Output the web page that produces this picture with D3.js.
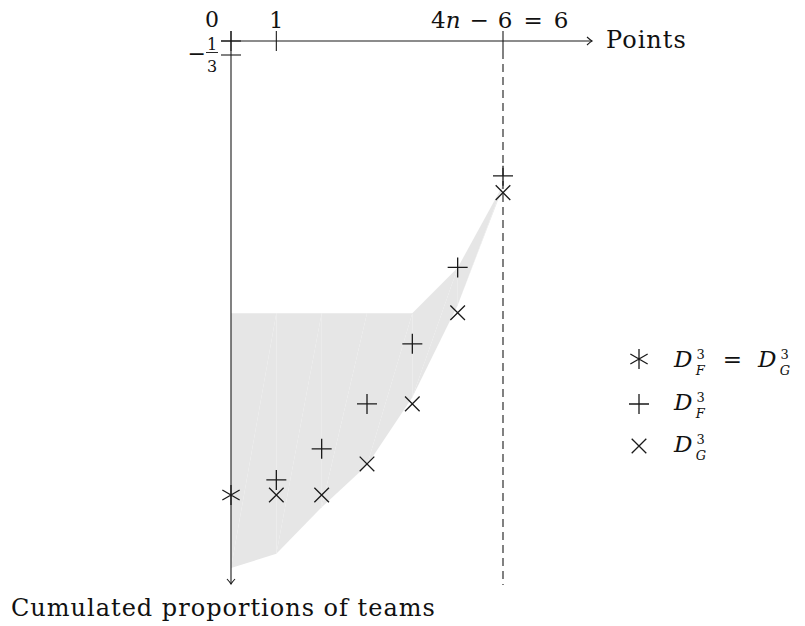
<!DOCTYPE html>
<html>
<head>
<meta charset="utf-8">
<script src="https://cdn.jsdelivr.net/npm/d3@7"></script>
<style>
  body { margin: 0; background: #fff; }
  text { font-family: "DejaVu Serif", "Liberation Serif", serif; fill: #111; }
  .it { font-style: italic; }
</style>
</head>
<body>
<svg id="chart" width="805" height="626"></svg>
<script>
// points on the x axis
var points = [0, 1, 2, 3, 4, 5, 6];
// D_F = D_G at 0 points
var bothX = [0],
    bothY = [-10.81];
// D_F^3 and D_G^3 markers
var seriesX = [1, 2, 3, 4, 5, 6];
var fY = [-10.45, -9.71, -8.64, -7.21, -5.39, -3.21];
var gY = [-10.81, -10.81, -10.07, -8.64, -6.47, -3.61];
// grey band, one value per point
var bandUpper = [-6.48, -6.48, -6.48, -6.48, -6.48, -5.40, -3.43];
var bandLower = [-12.55, -12.21, -11.10, -10.10, -8.48, -6.29, -3.48];
var yTicks = [0, -1/3];

var svg = d3.select("#chart");

var x = d3.scaleLinear().domain([0, 6]).range([231, 503]),
    y = d3.scaleLinear().domain([0, -13]).range([41, 41 + 13 * 42]);

var ink = "#1a1a1a";

// band, drawn as triangles like the tikz fill
var band = svg.append("g");
for (var i = 0; i < points.length - 1; i++) {
  var a = points[i], b = points[i + 1];
  var t1 = [[x(a), y(bandUpper[i])], [x(b), y(bandUpper[i + 1])], [x(a), y(bandLower[i])]];
  var t2 = [[x(b), y(bandUpper[i + 1])], [x(b), y(bandLower[i + 1])], [x(a), y(bandLower[i])]];
  [t1, t2].forEach(function(t) {
    band.append("path")
      .attr("d", "M" + t.join("L") + "Z")
      .attr("fill", "#e6e6e6");
  });
}

// dashed line at 4n-6
svg.append("line")
  .attr("x1", x(6)).attr("x2", x(6))
  .attr("y1", y(0) + 10).attr("y2", 585)
  .attr("stroke", ink).attr("stroke-width", 1.1)
  .attr("stroke-dasharray", "8,5");

// axes
var xEnd = 592, yEnd = 584;
svg.append("line")
  .attr("x1", x(0) - 10).attr("x2", xEnd)
  .attr("y1", y(0)).attr("y2", y(0))
  .attr("stroke", ink).attr("stroke-width", 1.1);
svg.append("line")
  .attr("x1", x(0)).attr("x2", x(0))
  .attr("y1", y(0) - 10).attr("y2", yEnd)
  .attr("stroke", ink).attr("stroke-width", 1.1);
// arrow heads
svg.append("path")
  .attr("d", "M" + (xEnd - 5) + "," + (y(0) - 4) + "Q" + (xEnd - 1.5) + "," + (y(0) - 0.8) + " " + xEnd + "," + y(0)
    + "Q" + (xEnd - 1.5) + "," + (y(0) + 0.8) + " " + (xEnd - 5) + "," + (y(0) + 4))
  .attr("fill", "none").attr("stroke", ink).attr("stroke-width", 1.1);
svg.append("path")
  .attr("d", "M" + (x(0) - 4) + "," + (yEnd - 5) + "Q" + (x(0) - 0.8) + "," + (yEnd - 1.5) + " " + x(0) + "," + yEnd
    + "Q" + (x(0) + 0.8) + "," + (yEnd - 1.5) + " " + (x(0) + 4) + "," + (yEnd - 5))
  .attr("fill", "none").attr("stroke", ink).attr("stroke-width", 1.1);

// ticks
svg.selectAll(".xtick")
  .data([0, 1, 6])
  .enter().append("line")
    .attr("x1", function(d) { return x(d); }).attr("x2", function(d) { return x(d); })
    .attr("y1", y(0) - 10).attr("y2", y(0) + 10)
    .attr("stroke", ink).attr("stroke-width", 1.1);
svg.selectAll(".ytick")
  .data(yTicks)
  .enter().append("line")
    .attr("x1", x(0) - 10).attr("x2", x(0) + 10)
    .attr("y1", function(d) { return y(d); }).attr("y2", function(d) { return y(d); })
    .attr("stroke", ink).attr("stroke-width", 1.1);

// tick labels
svg.append("text").attr("x", 212).attr("y", 27).attr("text-anchor", "middle")
  .style("font-size", "22px").text("0");
svg.append("text").attr("x", x(1)).attr("y", 28).attr("text-anchor", "middle")
  .style("font-size", "22px").text("1");
var lab6 = svg.append("text").attr("x", 431).attr("y", 28)
  .style("font-size", "23px");
lab6.append("tspan").text("4");
lab6.append("tspan").attr("class", "it").text("n");
lab6.append("tspan").attr("dx", 9).text("−");
lab6.append("tspan").attr("dx", 9).text("6");
lab6.append("tspan").attr("dx", 11).text("=");
lab6.append("tspan").attr("dx", 11).text("6");

// -1/3
svg.append("text").attr("x", 206).attr("y", y(-1/3) + 6).attr("text-anchor", "end")
  .style("font-size", "22px").text("−");
svg.append("text").attr("x", 212).attr("y", y(-1/3) - 5).attr("text-anchor", "middle")
  .style("font-size", "16px").text("1");
svg.append("text").attr("x", 212).attr("y", y(-1/3) + 17).attr("text-anchor", "middle")
  .style("font-size", "16px").text("3");
svg.append("line").attr("x1", 206).attr("x2", 218)
  .attr("y1", y(-1/3) - 2.5).attr("y2", y(-1/3) - 2.5)
  .attr("stroke", "#111").attr("stroke-width", 0.9);

// axis titles
svg.append("text").attr("x", 606).attr("y", 48)
  .style("font-size", "24px").style("letter-spacing", "1px").text("Points");
svg.append("text").attr("x", 11).attr("y", 616)
  .style("font-size", "24px").style("letter-spacing", "1px").text("Cumulated proportions of teams");

// markers
var plus = "M-10,0H10M0,-10V10",
    cross = "M-7.3,-7.3L7.3,7.3M-7.3,7.3L7.3,-7.3",
    star = "M0,-10V10M-8.66,-5L8.66,5M-8.66,5L8.66,-5";

function marks(xs, ys, shape) {
  svg.append("g").selectAll("path")
    .data(xs)
    .enter().append("path")
      .attr("transform", function(d, i) { return "translate(" + x(d) + "," + y(ys[i]) + ")"; })
      .attr("d", shape)
      .attr("fill", "none")
      .attr("stroke", ink)
      .attr("stroke-width", 1.3);
}
marks(seriesX, fY, plus);
marks(seriesX, gY, cross);
marks(bothX, bothY, star);

// legend: one text per row, D with sup 3 and sub F/G using relative shifts
var legend = [
  {shape: star, y: 359, base: 367, subs: ["F", "G"]},
  {shape: plus, y: 404, base: 410, subs: ["F"]},
  {shape: cross, y: 446, base: 452, subs: ["G"]}
];
legend.forEach(function(l) {
  svg.append("path")
    .attr("transform", "translate(639," + l.y + ")")
    .attr("d", l.shape)
    .attr("fill", "none").attr("stroke", ink).attr("stroke-width", 1.3);
  var t = svg.append("text").attr("x", 674).attr("y", l.base);
  l.subs.forEach(function(s, k) {
    if (k > 0) {
      t.append("tspan").attr("dx", 18).attr("dy", -8)
        .style("font-size", "23px").text("=");
      t.append("tspan").attr("dx", 16).attr("class", "it")
        .style("font-size", "23px").text("D");
    } else {
      t.append("tspan").attr("class", "it").style("font-size", "23px").text("D");
    }
    t.append("tspan").attr("dx", 4).attr("dy", -8)
      .style("font-size", "13px").text("3");
    t.append("tspan").attr("dx", -9).attr("dy", 16).attr("class", "it")
      .style("font-size", "13px").text(s);
  });
});
</script>
</body>
</html>
